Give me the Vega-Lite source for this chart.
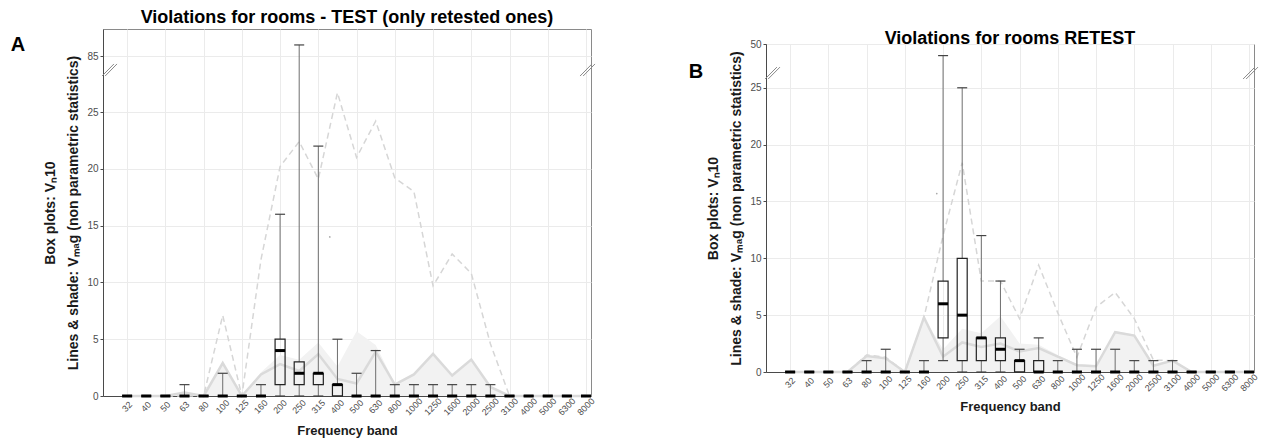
{
  "$schema": "https://vega.github.io/schema/vega-lite/v6.json",
  "background": "white",
  "padding": {"left": 10, "top": 8, "right": 5, "bottom": 2},
  "spacing": 90,
  "datasets": {
    "bands": [
      {"i": 1, "band": "32", "base": 0}, {"i": 2, "band": "40", "base": 0}, {"i": 3, "band": "50", "base": 0},
      {"i": 4, "band": "63", "base": 0}, {"i": 5, "band": "80", "base": 0}, {"i": 6, "band": "100", "base": 0},
      {"i": 7, "band": "125", "base": 0}, {"i": 8, "band": "160", "base": 0}, {"i": 9, "band": "200", "base": 0},
      {"i": 10, "band": "250", "base": 0}, {"i": 11, "band": "315", "base": 0}, {"i": 12, "band": "400", "base": 0},
      {"i": 13, "band": "500", "base": 0}, {"i": 14, "band": "630", "base": 0}, {"i": 15, "band": "800", "base": 0},
      {"i": 16, "band": "1000", "base": 0}, {"i": 17, "band": "1250", "base": 0}, {"i": 18, "band": "1600", "base": 0},
      {"i": 19, "band": "2000", "base": 0}, {"i": 20, "band": "2500", "base": 0}, {"i": 21, "band": "3100", "base": 0},
      {"i": 22, "band": "4000", "base": 0}, {"i": 23, "band": "5000", "base": 0}, {"i": 24, "band": "6300", "base": 0},
      {"i": 25, "band": "8000", "base": 0}
    ],
    "boxA": [
      {"i": 1, "lo": 0, "q1": 0, "med": 0, "q3": 0, "hi": 0},
      {"i": 2, "lo": 0, "q1": 0, "med": 0, "q3": 0, "hi": 0},
      {"i": 3, "lo": 0, "q1": 0, "med": 0, "q3": 0, "hi": 0},
      {"i": 4, "lo": 0, "q1": 0, "med": 0, "q3": 0, "hi": 1},
      {"i": 5, "lo": 0, "q1": 0, "med": 0, "q3": 0, "hi": 0},
      {"i": 6, "lo": 0, "q1": 0, "med": 0, "q3": 0, "hi": 2},
      {"i": 7, "lo": 0, "q1": 0, "med": 0, "q3": 0, "hi": 0},
      {"i": 8, "lo": 0, "q1": 0, "med": 0, "q3": 0, "hi": 1},
      {"i": 9, "lo": 0, "q1": 1, "med": 4, "q3": 5, "hi": 16},
      {"i": 10, "lo": 0, "q1": 1, "med": 2, "q3": 3, "hi": 86},
      {"i": 11, "lo": 0, "q1": 1, "med": 2, "q3": 2, "hi": 22},
      {"i": 12, "lo": 0, "q1": 0, "med": 1, "q3": 1, "hi": 5},
      {"i": 13, "lo": 0, "q1": 0, "med": 0, "q3": 0, "hi": 2},
      {"i": 14, "lo": 0, "q1": 0, "med": 0, "q3": 0, "hi": 4},
      {"i": 15, "lo": 0, "q1": 0, "med": 0, "q3": 0, "hi": 1},
      {"i": 16, "lo": 0, "q1": 0, "med": 0, "q3": 0, "hi": 1},
      {"i": 17, "lo": 0, "q1": 0, "med": 0, "q3": 0, "hi": 1},
      {"i": 18, "lo": 0, "q1": 0, "med": 0, "q3": 0, "hi": 1},
      {"i": 19, "lo": 0, "q1": 0, "med": 0, "q3": 0, "hi": 1},
      {"i": 20, "lo": 0, "q1": 0, "med": 0, "q3": 0, "hi": 1},
      {"i": 21, "lo": 0, "q1": 0, "med": 0, "q3": 0, "hi": 0},
      {"i": 22, "lo": 0, "q1": 0, "med": 0, "q3": 0, "hi": 0},
      {"i": 23, "lo": 0, "q1": 0, "med": 0, "q3": 0, "hi": 0},
      {"i": 24, "lo": 0, "q1": 0, "med": 0, "q3": 0, "hi": 0},
      {"i": 25, "lo": 0, "q1": 0, "med": 0, "q3": 0, "hi": 0}
    ],
    "boxB": [
      {"i": 1, "lo": 0, "q1": 0, "med": 0, "q3": 0, "hi": 0},
      {"i": 2, "lo": 0, "q1": 0, "med": 0, "q3": 0, "hi": 0},
      {"i": 3, "lo": 0, "q1": 0, "med": 0, "q3": 0, "hi": 0},
      {"i": 4, "lo": 0, "q1": 0, "med": 0, "q3": 0, "hi": 0},
      {"i": 5, "lo": 0, "q1": 0, "med": 0, "q3": 0, "hi": 1},
      {"i": 6, "lo": 0, "q1": 0, "med": 0, "q3": 0, "hi": 2},
      {"i": 7, "lo": 0, "q1": 0, "med": 0, "q3": 0, "hi": 0},
      {"i": 8, "lo": 0, "q1": 0, "med": 0, "q3": 0, "hi": 1},
      {"i": 9, "lo": 1, "q1": 3, "med": 6, "q3": 8, "hi": 49},
      {"i": 10, "lo": 0, "q1": 1, "med": 5, "q3": 10, "hi": 25},
      {"i": 11, "lo": 0, "q1": 1, "med": 3, "q3": 3, "hi": 12},
      {"i": 12, "lo": 0, "q1": 1, "med": 2, "q3": 3, "hi": 8},
      {"i": 13, "lo": 0, "q1": 0, "med": 1, "q3": 1, "hi": 2},
      {"i": 14, "lo": 0, "q1": 0, "med": 0, "q3": 1, "hi": 3},
      {"i": 15, "lo": 0, "q1": 0, "med": 0, "q3": 0, "hi": 1},
      {"i": 16, "lo": 0, "q1": 0, "med": 0, "q3": 0, "hi": 2},
      {"i": 17, "lo": 0, "q1": 0, "med": 0, "q3": 0, "hi": 2},
      {"i": 18, "lo": 0, "q1": 0, "med": 0, "q3": 0, "hi": 2},
      {"i": 19, "lo": 0, "q1": 0, "med": 0, "q3": 0, "hi": 1},
      {"i": 20, "lo": 0, "q1": 0, "med": 0, "q3": 0, "hi": 1},
      {"i": 21, "lo": 0, "q1": 0, "med": 0, "q3": 0, "hi": 1},
      {"i": 22, "lo": 0, "q1": 0, "med": 0, "q3": 0, "hi": 0},
      {"i": 23, "lo": 0, "q1": 0, "med": 0, "q3": 0, "hi": 0},
      {"i": 24, "lo": 0, "q1": 0, "med": 0, "q3": 0, "hi": 0},
      {"i": 25, "lo": 0, "q1": 0, "med": 0, "q3": 0, "hi": 0}
    ],
    "lineA": [
      {"i": 1, "dash": 0, "solid": 0, "shade": 0},
      {"i": 2, "dash": 0, "solid": 0, "shade": 0},
      {"i": 3, "dash": 0, "solid": 0, "shade": 0},
      {"i": 4, "dash": 0, "solid": 0.3, "shade": 0.3},
      {"i": 5, "dash": 0, "solid": 0, "shade": 0},
      {"i": 6, "dash": 7.1, "solid": 2.9, "shade": 2.9},
      {"i": 7, "dash": 0, "solid": 0, "shade": 0},
      {"i": 8, "dash": 12, "solid": 1.9, "shade": 2.1},
      {"i": 9, "dash": 20.2, "solid": 2.8, "shade": 3.6},
      {"i": 10, "dash": 22.4, "solid": 2.2, "shade": 3.2},
      {"i": 11, "dash": 19.1, "solid": 3.7, "shade": 4.7},
      {"i": 12, "dash": 26.7, "solid": 1.5, "shade": 2.6},
      {"i": 13, "dash": 21, "solid": 1.1, "shade": 5.7},
      {"i": 14, "dash": 24.2, "solid": 3.9, "shade": 4.5},
      {"i": 15, "dash": 19.2, "solid": 1.0, "shade": 1.1},
      {"i": 16, "dash": 18, "solid": 1.9, "shade": 2.0},
      {"i": 17, "dash": 9.7, "solid": 3.7, "shade": 3.8},
      {"i": 18, "dash": 12.5, "solid": 1.8, "shade": 1.9},
      {"i": 19, "dash": 10.8, "solid": 3.2, "shade": 3.3},
      {"i": 20, "dash": 4.6, "solid": 0.8, "shade": 0.9},
      {"i": 21, "dash": 0, "solid": 0, "shade": 0},
      {"i": 22, "dash": 0, "solid": 0, "shade": 0},
      {"i": 23, "dash": 0, "solid": 0, "shade": 0},
      {"i": 24, "dash": 0, "solid": 0, "shade": 0},
      {"i": 25, "dash": 0, "solid": 0, "shade": 0}
    ],
    "lineB": [
      {"i": 1, "dash": 0, "solid": 0, "shade": 0},
      {"i": 2, "dash": 0, "solid": 0, "shade": 0},
      {"i": 3, "dash": 0, "solid": 0, "shade": 0},
      {"i": 4, "dash": 0, "solid": 0, "shade": 0},
      {"i": 5, "dash": 1.5, "solid": 1.4, "shade": 1.5},
      {"i": 6, "dash": 1.3, "solid": 1.2, "shade": 1.3},
      {"i": 7, "dash": 0, "solid": 0, "shade": 0},
      {"i": 8, "dash": 4.8, "solid": 4.8, "shade": 4.8},
      {"i": 9, "dash": 12, "solid": 1.35, "shade": 2.0},
      {"i": 10, "dash": 18.4, "solid": 2.6, "shade": 3.8},
      {"i": 11, "dash": 8, "solid": 2.2, "shade": 3.4},
      {"i": 12, "dash": 8, "solid": 2.5, "shade": 4.9},
      {"i": 13, "dash": 4.7, "solid": 1.8, "shade": 2.5},
      {"i": 14, "dash": 9.4, "solid": 2.1, "shade": 2.4},
      {"i": 15, "dash": 5.2, "solid": 1.35, "shade": 1.5},
      {"i": 16, "dash": 1.3, "solid": 0.6, "shade": 0.7},
      {"i": 17, "dash": 5.7, "solid": 0.5, "shade": 0.6},
      {"i": 18, "dash": 7.0, "solid": 3.5, "shade": 3.6},
      {"i": 19, "dash": 4.7, "solid": 3.2, "shade": 3.3},
      {"i": 20, "dash": 1.05, "solid": 0.55, "shade": 0.6},
      {"i": 21, "dash": 1.0, "solid": 1.0, "shade": 1.0},
      {"i": 22, "dash": 0, "solid": 0, "shade": 0},
      {"i": 23, "dash": 0, "solid": 0, "shade": 0},
      {"i": 24, "dash": 0, "solid": 0, "shade": 0},
      {"i": 25, "dash": 0, "solid": 0, "shade": 0}
    ],
    "outA": [{"i": 11.6, "v": 14}],
    "outB": [{"i": 8.67, "v": 15.7}],
    "brkA": [
      {"bx": -0.31, "bx2": 0.31, "by": 28.17, "by2": 84.33},
      {"bx": -0.15, "bx2": 0.47, "by": 28.17, "by2": 84.33},
      {"bx": 24.69, "bx2": 25.31, "by": 28.17, "by2": 84.33},
      {"bx": 24.85, "bx2": 25.47, "by": 28.17, "by2": 84.33}
    ],
    "brkB": [
      {"bx": -0.31, "bx2": 0.31, "by": 25.77, "by2": 48.01},
      {"bx": -0.15, "bx2": 0.47, "by": 25.77, "by2": 48.01},
      {"bx": 24.69, "bx2": 25.31, "by": 25.77, "by2": 48.01},
      {"bx": 24.85, "bx2": 25.47, "by": 25.77, "by2": 48.01}
    ]
  },
  "hconcat": [
    {
      "width": 488,
      "height": 367,
      "title": {"text": "Violations for rooms - TEST (only retested ones)", "offset": 2},
      "layer": [
        {"data": {"name": "lineA"}, "mark": {"type": "area", "color": "#f2f2f2"},
         "encoding": {
           "x": {"field": "i", "type": "quantitative", "scale": {"domain": [0, 25], "nice": false, "zero": false},
                 "axis": {"values": [1,2,3,4,5,6,7,8,9,10,11,12,13,14,15,16,17,18,19,20,21,22,23,24,25],
                          "labels": false, "ticks": false, "grid": true,
                          "title": "Frequency band", "titleFontSize": 13, "titleFontWeight": "bold", "titlePadding": 28}},
           "y": {"field": "shade", "type": "quantitative",
                 "scale": {"domain": [0, 28.7, 83.8, 87.4], "range": [367, 41, 41, 0], "nice": false, "zero": false},
                 "axis": {"values": [0, 5, 10, 15, 20, 25, 85], "grid": true, "tickSize": 3, "labelPadding": 2, "labelFontSize": 10,
                          "title": ["Box plots: Vₙ10", "Lines & shade: Vₘₐg (non parametric statistics)"],
                          "titleFontSize": 14, "titleFontWeight": "bold", "titleLineHeight": 23, "titlePadding": 6}},
           "y2": {"datum": 0}}},
        {"data": {"name": "lineA"}, "mark": {"type": "line", "color": "#d6d6d6", "strokeWidth": 1.5, "strokeDash": [6, 4]},
         "encoding": {"x": {"field": "i", "type": "quantitative"}, "y": {"field": "dash", "type": "quantitative"}}},
        {"data": {"name": "lineA"}, "mark": {"type": "line", "color": "#dadada", "strokeWidth": 2.5},
         "encoding": {"x": {"field": "i", "type": "quantitative"}, "y": {"field": "solid", "type": "quantitative"}}},
        {"data": {"name": "boxA"}, "mark": {"type": "rule", "color": "#6e6e6e", "strokeWidth": 1},
         "encoding": {"x": {"field": "i", "type": "quantitative"}, "y": {"field": "lo", "type": "quantitative"}, "y2": {"field": "q1"}}},
        {"data": {"name": "boxA"}, "mark": {"type": "rule", "color": "#6e6e6e", "strokeWidth": 1},
         "encoding": {"x": {"field": "i", "type": "quantitative"}, "y": {"field": "q3", "type": "quantitative"}, "y2": {"field": "hi"}}},
        {"data": {"name": "boxA"}, "mark": {"type": "tick", "orient": "horizontal", "size": 10, "thickness": 1.2, "color": "#444", "opacity": 1},
         "encoding": {"x": {"field": "i", "type": "quantitative"}, "y": {"field": "hi", "type": "quantitative"}}},
        {"data": {"name": "boxA"}, "mark": {"type": "tick", "orient": "horizontal", "size": 10, "thickness": 1.2, "color": "#444", "opacity": 1},
         "encoding": {"x": {"field": "i", "type": "quantitative"}, "y": {"field": "lo", "type": "quantitative"}}},
        {"data": {"name": "boxA"}, "transform": [{"filter": "datum.q3 > datum.q1"}],
         "mark": {"type": "bar", "size": 10, "fill": "transparent", "stroke": "#222", "strokeWidth": 1.2},
         "encoding": {"x": {"field": "i", "type": "quantitative"}, "y": {"field": "q1", "type": "quantitative"}, "y2": {"field": "q3"}}},
        {"data": {"name": "boxA"}, "mark": {"type": "tick", "orient": "horizontal", "size": 10, "thickness": 3, "color": "#000", "opacity": 1},
         "encoding": {"x": {"field": "i", "type": "quantitative"}, "y": {"field": "med", "type": "quantitative"}}},
        {"data": {"name": "outA"}, "mark": {"type": "point", "filled": true, "size": 3, "color": "#888"},
         "encoding": {"x": {"field": "i", "type": "quantitative"}, "y": {"field": "v", "type": "quantitative"}}},
        {"data": {"name": "brkA"}, "mark": {"type": "rule", "color": "#8a8a8a", "strokeWidth": 1},
         "encoding": {"x": {"field": "bx", "type": "quantitative"}, "x2": {"field": "bx2"},
                      "y": {"field": "by", "type": "quantitative"}, "y2": {"field": "by2"}}},
        {"data": {"name": "bands"}, "mark": {"type": "text", "angle": -45, "align": "center", "baseline": "middle", "dx": -7.6, "dy": 7.6, "fontSize": 9, "color": "#4d4d4d"},
         "encoding": {"x": {"field": "i", "type": "quantitative"}, "y": {"field": "base", "type": "quantitative"}, "text": {"field": "band"}}},
        {"data": {"values": [{"label": "A", "lx": 0, "ly": 86}]}, "mark": {"type": "text", "fontSize": 20, "fontWeight": "bold", "align": "center", "baseline": "middle", "dx": -90, "color": "#000"},
         "encoding": {"x": {"field": "lx", "type": "quantitative"}, "y": {"field": "ly", "type": "quantitative"}, "text": {"field": "label"}}}
      ]
    },
    {
      "vconcat": [
        {
          "width": 488,
          "height": 15,
          "view": {"stroke": null},
          "data": {"values": [{"t": ""}]},
          "mark": {"type": "text"},
          "encoding": {"text": {"field": "t"}}
        },
        {
          "width": 488,
          "height": 328,
          "title": {"text": "Violations for rooms RETEST", "offset": -9},
          "layer": [
            {"data": {"name": "lineB"}, "mark": {"type": "area", "color": "#f2f2f2"},
             "encoding": {
               "x": {"field": "i", "type": "quantitative", "scale": {"domain": [0, 25], "nice": false, "zero": false},
                     "axis": {"values": [1,2,3,4,5,6,7,8,9,10,11,12,13,14,15,16,17,18,19,20,21,22,23,24,25],
                              "labels": false, "ticks": false, "grid": true,
                              "title": "Frequency band", "titleFontSize": 13, "titleFontWeight": "bold", "titlePadding": 28}},
               "y": {"field": "shade", "type": "quantitative",
                     "scale": {"domain": [0, 26.3, 47.5, 50], "range": [328, 29, 29, 0], "nice": false, "zero": false},
                     "axis": {"values": [0, 5, 10, 15, 20, 25, 50], "grid": true, "tickSize": 3, "labelPadding": 2, "labelFontSize": 10,
                              "title": ["Box plots: Vₙ10", "Lines & shade: Vₘₐg (non parametric statistics)"],
                              "titleFontSize": 14, "titleFontWeight": "bold", "titleLineHeight": 23, "titlePadding": 6}},
               "y2": {"datum": 0}}},
            {"data": {"name": "lineB"}, "mark": {"type": "line", "color": "#d6d6d6", "strokeWidth": 1.5, "strokeDash": [6, 4]},
             "encoding": {"x": {"field": "i", "type": "quantitative"}, "y": {"field": "dash", "type": "quantitative"}}},
            {"data": {"name": "lineB"}, "mark": {"type": "line", "color": "#dadada", "strokeWidth": 2.5},
             "encoding": {"x": {"field": "i", "type": "quantitative"}, "y": {"field": "solid", "type": "quantitative"}}},
            {"data": {"name": "boxB"}, "mark": {"type": "rule", "color": "#6e6e6e", "strokeWidth": 1},
             "encoding": {"x": {"field": "i", "type": "quantitative"}, "y": {"field": "lo", "type": "quantitative"}, "y2": {"field": "q1"}}},
            {"data": {"name": "boxB"}, "mark": {"type": "rule", "color": "#6e6e6e", "strokeWidth": 1},
             "encoding": {"x": {"field": "i", "type": "quantitative"}, "y": {"field": "q3", "type": "quantitative"}, "y2": {"field": "hi"}}},
            {"data": {"name": "boxB"}, "mark": {"type": "tick", "orient": "horizontal", "size": 10, "thickness": 1.2, "color": "#444", "opacity": 1},
             "encoding": {"x": {"field": "i", "type": "quantitative"}, "y": {"field": "hi", "type": "quantitative"}}},
            {"data": {"name": "boxB"}, "mark": {"type": "tick", "orient": "horizontal", "size": 10, "thickness": 1.2, "color": "#444", "opacity": 1},
             "encoding": {"x": {"field": "i", "type": "quantitative"}, "y": {"field": "lo", "type": "quantitative"}}},
            {"data": {"name": "boxB"}, "transform": [{"filter": "datum.q3 > datum.q1"}],
             "mark": {"type": "bar", "size": 10, "fill": "transparent", "stroke": "#222", "strokeWidth": 1.2},
             "encoding": {"x": {"field": "i", "type": "quantitative"}, "y": {"field": "q1", "type": "quantitative"}, "y2": {"field": "q3"}}},
            {"data": {"name": "boxB"}, "mark": {"type": "tick", "orient": "horizontal", "size": 10, "thickness": 3, "color": "#000", "opacity": 1},
             "encoding": {"x": {"field": "i", "type": "quantitative"}, "y": {"field": "med", "type": "quantitative"}}},
            {"data": {"name": "outB"}, "mark": {"type": "point", "filled": true, "size": 3, "color": "#888"},
             "encoding": {"x": {"field": "i", "type": "quantitative"}, "y": {"field": "v", "type": "quantitative"}}},
            {"data": {"name": "brkB"}, "mark": {"type": "rule", "color": "#8a8a8a", "strokeWidth": 1},
             "encoding": {"x": {"field": "bx", "type": "quantitative"}, "x2": {"field": "bx2"},
                          "y": {"field": "by", "type": "quantitative"}, "y2": {"field": "by2"}}},
            {"data": {"name": "bands"}, "mark": {"type": "text", "angle": -45, "align": "center", "baseline": "middle", "dx": -7.6, "dy": 7.6, "fontSize": 9, "color": "#4d4d4d"},
             "encoding": {"x": {"field": "i", "type": "quantitative"}, "y": {"field": "base", "type": "quantitative"}, "text": {"field": "band"}}},
            {"data": {"values": [{"label": "B", "lx": 0, "ly": 47.6}]}, "mark": {"type": "text", "fontSize": 20, "fontWeight": "bold", "align": "center", "baseline": "middle", "dx": -75, "color": "#000"},
             "encoding": {"x": {"field": "lx", "type": "quantitative"}, "y": {"field": "ly", "type": "quantitative"}, "text": {"field": "label"}}}
          ]
        }
      ],
      "spacing": 0,
      "bounds": "flush"
    }
  ],
  "config": {
    "font": "Liberation Sans",
    "view": {"stroke": "#8a8a8a", "strokeWidth": 1},
    "title": {"fontSize": 18, "fontWeight": "bold", "color": "#000", "anchor": "middle", "font": "Liberation Sans"},
    "axis": {"gridColor": "#ebebeb", "gridWidth": 1, "domainColor": "#4a4a4a", "tickColor": "#4a4a4a", "labelColor": "#4d4d4d", "titleColor": "#1a1a1a", "labelFont": "Liberation Sans", "titleFont": "Liberation Sans"}
  }
}
